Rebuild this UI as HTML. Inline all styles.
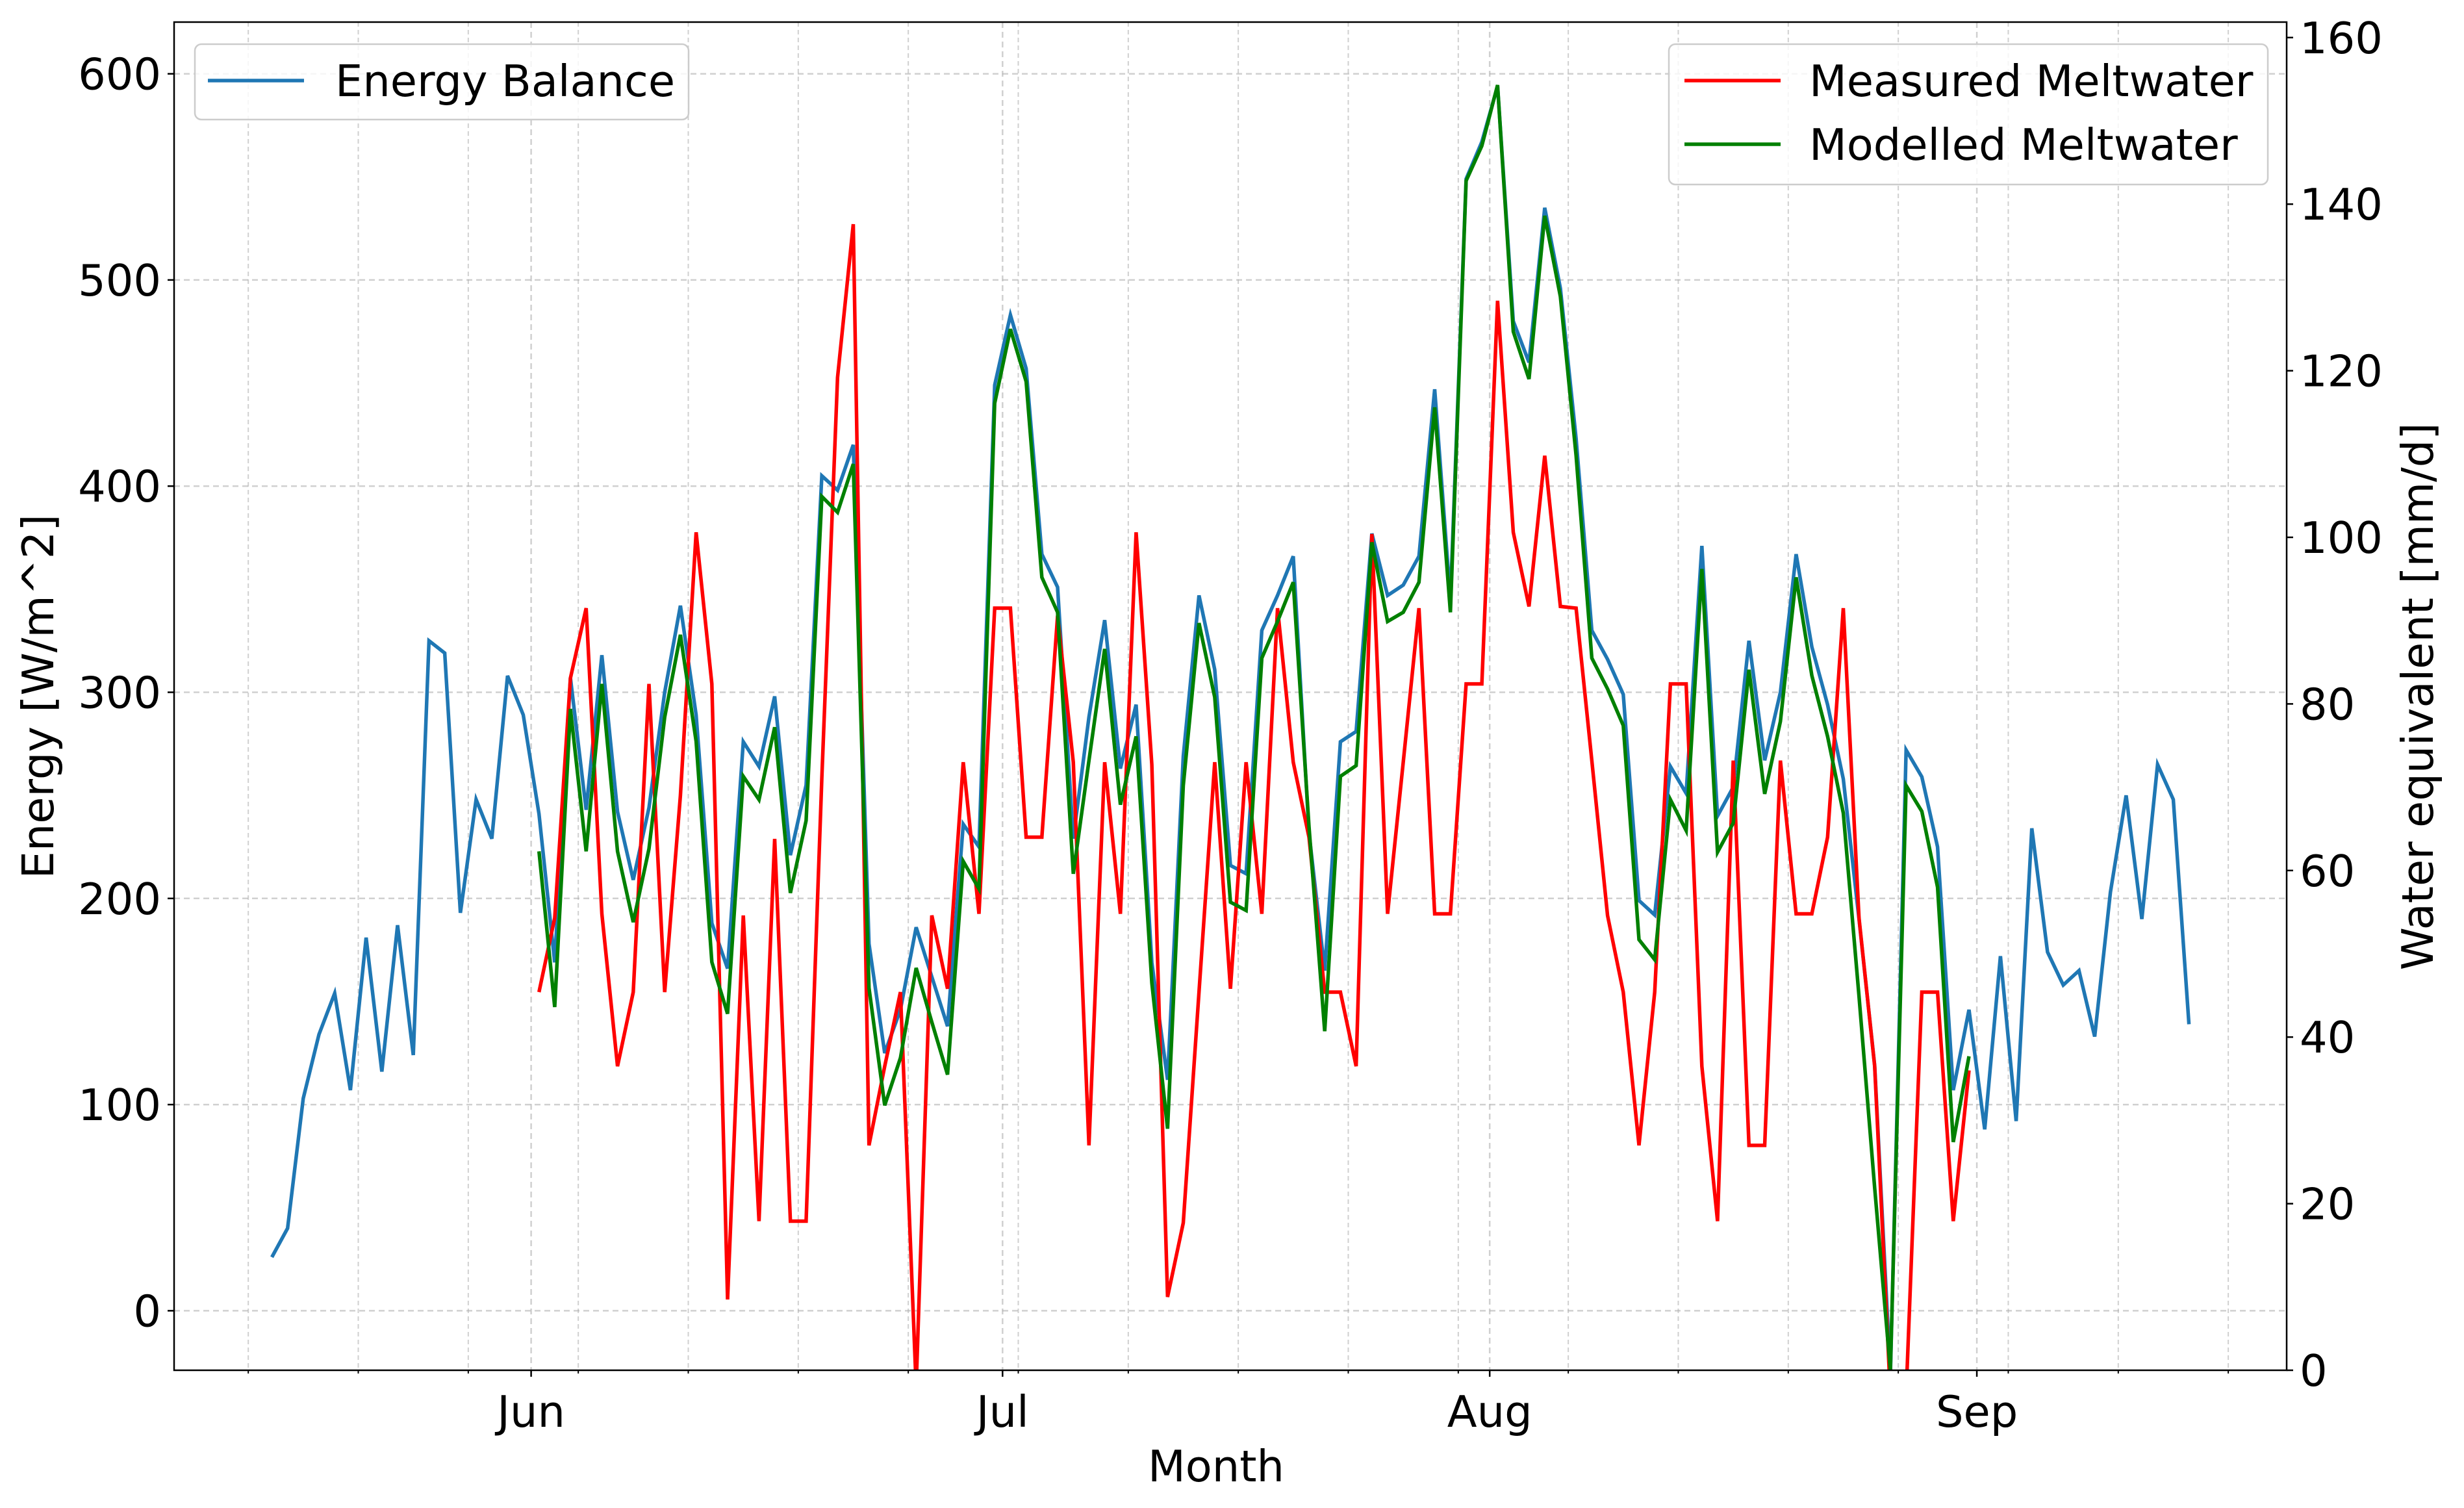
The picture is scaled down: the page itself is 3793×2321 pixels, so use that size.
<!DOCTYPE html>
<html><head><meta charset="utf-8">
<style>
html,body{margin:0;padding:0;background:#fff;}
svg{display:block;font-family:"DejaVu Sans","Liberation Sans",sans-serif;}
</style></head>
<body>
<svg id="chart" width="3793" height="2321" viewBox="0 0 3793 2321" xmlns="http://www.w3.org/2000/svg">
<defs><clipPath id="plotclip"><rect x="268" y="34" width="3252" height="2075"/></clipPath></defs>
<rect x="0" y="0" width="3793" height="2321" fill="#fff"/>
<g id="grid"></g>
<g id="series" clip-path="url(#plotclip)"></g>
<rect x="268" y="34" width="3252" height="2075" fill="none" stroke="#000" stroke-width="2.5"/>
<g id="axes"></g>
<text x="1872" y="2280" text-anchor="middle" font-size="67">Month</text>
<text transform="translate(82,1072) rotate(-90)" text-anchor="middle" font-size="67">Energy [W/m^2]</text>
<text transform="translate(3745,1072) rotate(-90)" text-anchor="middle" font-size="67">Water equivalent [mm/d]</text>
<g>
<rect x="300" y="68" width="760" height="116" rx="10" fill="#fff" fill-opacity="0.8" stroke="#ccc" stroke-width="2.5"/>
<line x1="320" y1="124" x2="468" y2="124" stroke="#1f77b4" stroke-width="5.5"/>
<text x="516" y="148" font-size="67">Energy Balance</text>
</g>
<g>
<rect x="2569" y="68" width="922" height="216" rx="10" fill="#fff" fill-opacity="0.8" stroke="#ccc" stroke-width="2.5"/>
<line x1="2593" y1="124" x2="2741" y2="124" stroke="#ff0000" stroke-width="5.5"/>
<text x="2785" y="148" font-size="67">Measured Meltwater</text>
<line x1="2593" y1="222" x2="2741" y2="222" stroke="#008000" stroke-width="5.5"/>
<text x="2785" y="246" font-size="67">Modelled Meltwater</text>
</g>
</svg>
<script>
// data: days since Jun 1 (point k at day k-16.5)
const energyStartDay = -16.5;
const energyBalance = [26,40,103,134,154,107,181,116,187,124,325,319,193,248,229,308,289,241,169,307,243,318,242,209,244,300,342,289,188,166,276,264,298,221,255,405,398,420,178,125,146,186,162,138,236,225,449,483,457,367,351,229,288,335,263,294,169,112,269,347,311,216,212,330,347,366,232,165,276,281,377,347,352,366,447,345,549,567,594,480,460,535,496,423,330,316,299,199,192,264,251,371,240,254,325,267,300,367,322,294,258,190,119,-31,272,259,225,107,146,88,172,92,234,174,158,165,133,203,250,190,265,248,139];
const meltStartDay = 0.5;
const measuredMelt = [45.4,54.3,83.1,91.5,54.8,36.5,45.4,82.4,45.4,69,100.6,82.4,8.5,54.6,17.9,63.8,17.9,17.9,71.1,119.2,137.6,27,36.5,45.4,-2,54.6,45.8,73,54.8,91.5,91.5,64,64,90.6,73,27,73,54.8,100.6,72.7,8.8,17.7,45.4,73,45.8,73,54.8,91.5,73,64,45.4,45.4,36.5,100.4,54.8,73,91.5,54.8,54.8,82.4,82.4,128.4,100.6,91.7,109.8,91.7,91.5,73.2,54.6,45.4,27,45.4,82.4,82.4,36.5,17.9,73.2,27,27,73.2,54.8,54.8,64,91.5,54.3,36.5,-3,-3,45.4,45.4,17.9,36];
const modelledMelt = [62.3,43.6,79.4,62.3,82.4,62.3,53.8,62.6,78.4,88.3,75.5,49,42.8,71.3,68.5,77.2,57.3,66,104.9,103,108.8,45.9,31.8,37.5,48.3,41.8,35.5,61.1,57.8,116.1,125,118.7,95.2,91,59.6,73.2,86.6,67.9,76.1,46.5,29,70.2,89.7,80.8,56.2,55.2,85.5,89.9,94.6,65.3,40.7,71.3,72.6,99.4,89.9,91,94.6,115.6,91,142.8,147,154.3,124.7,119,138.6,128.9,109.8,85.5,81.8,77.4,51.7,49.3,68.5,64.8,96.2,62.2,65.7,84.1,69.2,77.9,95.2,83.4,76.1,66.9,44.9,21.9,0,70.2,67.1,58,27.4,37.7];
const monthLabels = ["Jun","Jul","Aug","Sep"];
const monthDays = [0,30,61,92];
const leftTicks = [0,100,200,300,400,500,600];
const rightTicks = [0,20,40,60,80,100,120,140,160];

const NS="http://www.w3.org/2000/svg";
const L=268,R=3520,T=34,B=2109;
const xOf=d=>817.6+24.19*d;
const yL=v=>2017.4-3.173*v;
const yR=v=>2109-12.82*v;
function mk(tag,attrs,parent){const e=document.createElementNS(NS,tag);for(const k in attrs)e.setAttribute(k,attrs[k]);parent.appendChild(e);return e;}
const grid=document.getElementById('grid'),axes=document.getElementById('axes'),series=document.getElementById('series');

for(let d=-18; d<=110; d+=7){
  const x=xOf(d); if(x<L||x>R) continue;
  const g=mk('line',{x1:x,y1:T,x2:x,y2:B,stroke:'#b0b0b0','stroke-width':2,'stroke-dasharray':'7,5','stroke-opacity':0.6},grid);
  
  
  const t=mk('line',{x1:x,y1:B,x2:x,y2:B+5,stroke:'#000','stroke-width':2},axes);
  
  
}
monthDays.forEach((d,i)=>{
  const x=xOf(d);
  const g=mk('line',{x1:x,y1:T,x2:x,y2:B,stroke:'#b0b0b0','stroke-width':2.5,'stroke-dasharray':'9,6','stroke-opacity':0.6},grid);
  
  
  const t=mk('line',{x1:x,y1:B,x2:x,y2:B+10,stroke:'#000','stroke-width':2.5},axes);
  
  
  const lb=mk('text',{x:x,y:2196,'text-anchor':'middle','font-size':67},axes);
  lb.textContent=monthLabels[i];
  
  
});
leftTicks.forEach(v=>{
  const y=yL(v);
  const g=mk('line',{x1:L,y1:y,x2:R,y2:y,stroke:'#b0b0b0','stroke-width':2.5,'stroke-dasharray':'9,6','stroke-opacity':0.6},grid);
  
  
  const t=mk('line',{x1:L-10,y1:y,x2:L,y2:y,stroke:'#000','stroke-width':2.5},axes);
  
  
  const lb=mk('text',{x:L-20,y:y+24,'text-anchor':'end','font-size':67},axes);
  lb.textContent=v;
  
  
});
rightTicks.forEach(v=>{
  const y=yR(v);
  const t=mk('line',{x1:R,y1:y,x2:R+10,y2:y,stroke:'#000','stroke-width':2.5},axes);
  
  
  const lb=mk('text',{x:R+20,y:y+24,'text-anchor':'start','font-size':67},axes);
  lb.textContent=v;
  
  
});
function line(vals,start,yf,color,name){
  const pts=vals.map((v,i)=>xOf(start+i).toFixed(1)+','+yf(v).toFixed(1)).join(' ');
  const p=mk('polyline',{points:pts,fill:'none',stroke:color,'stroke-width':5.5,'stroke-linejoin':'miter','stroke-miterlimit':4},series);
  
  
}
line(energyBalance,energyStartDay,yL,'#1f77b4','energy-balance-line');
line(measuredMelt,meltStartDay,yR,'#ff0000','measured-meltwater-line');
line(modelledMelt,meltStartDay,yR,'#008000','modelled-meltwater-line');
</script>
</body></html>
